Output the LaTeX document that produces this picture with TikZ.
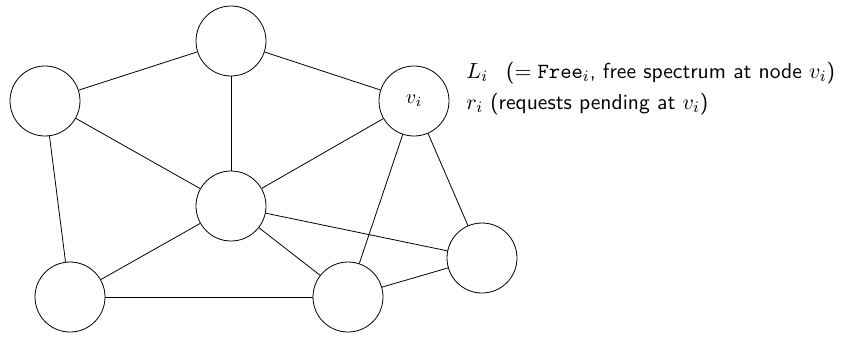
\documentclass[tikz,border=0pt]{standalone}
\usepackage{amsmath}
\usepackage{tikz}
\usetikzlibrary{positioning}
\tikzstyle{site} = [draw, circle, thin, minimum size=35pt, inner sep=0pt]
\tikzstyle{link} = [thin]
\tikzstyle{info} = [anchor=west, inner sep=0pt, font=\sffamily\fontsize{10.8}{13}\selectfont]

\begin{document}
\begin{tikzpicture}[x=0.5pt,y=-0.5pt]
	\useasboundingbox (0,0) rectangle (844,339);
	\node[site] (top) at (231,41) {};
	\node[site] (left) at (45,101) {};
	\node[site] (vi) at (414,101) {$v_i$};
	\node[site] (mid) at (231,206) {};
	\node[site] (right) at (482,258) {};
	\node[site] (botl) at (70,297) {};
	\node[site] (botm) at (348,297) {};

	% labels next to v_i
	\node[info] (load) at (466,73) {$L_i$\hspace{9pt}($=\texttt{Free}_i$, free spectrum at node $v_i$)};
	\node[info] (req) at (466,104) {$r_i$ (requests pending at $v_i$)};

	% edges
	\draw[link] (left) -- (top);
	\draw[link] (top) -- (vi);
	\draw[link] (top) -- (mid);
	\draw[link] (left) -- (mid);
	\draw[link] (left) -- (botl);
	\draw[link] (vi) -- (mid);
	\draw[link] (vi) -- (botm);
	\draw[link] (vi) -- (right);
	\draw[link] (mid) -- (botl);
	\draw[link] (mid) -- (botm);
	\draw[link] (mid) -- (right);
	\draw[link] (botl) -- (botm);
	\draw[link] (botm) -- (right);
\end{tikzpicture}
\end{document}
